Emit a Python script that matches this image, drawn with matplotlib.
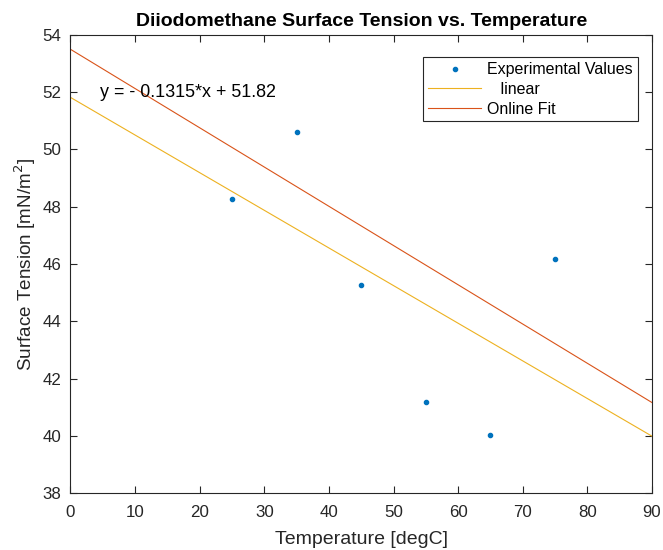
import matplotlib
matplotlib.use("Agg")
import matplotlib.pyplot as plt
import numpy as np

plt.rcParams['font.family'] = ['Liberation Sans', 'DejaVu Sans']

# Data
temperature = [25, 35, 45, 55, 65, 75]
surface_tension = [48.26, 50.61, 45.26, 41.18, 40.04, 46.18]
fit_slope = -0.1315
fit_intercept = 51.82
fit_x = [0, 90]
online_fit_x = [0, 90]
online_fit_y = [53.5, 41.16]
xticks = list(range(0, 91, 10))
yticks = list(range(38, 55, 2))

fig = plt.figure(figsize=(6.63, 5.5), dpi=100)
ax = fig.add_axes([0.1063, 0.1036, 0.9834 - 0.1063, 0.9364 - 0.1036])

blue = '#0072BD'
yellow = '#EDB120'
red = '#D95319'
gray = '#262626'

ax.plot(temperature, surface_tension, linestyle='none', marker='.', markersize=6,
        color=blue, label='Experimental Values')
fx = np.array(fit_x, dtype=float)
ax.plot(fx, fit_slope * fx + fit_intercept, color=yellow, lw=0.8, label='   linear')
ax.plot(online_fit_x, online_fit_y, color=red, lw=0.8, label='Online Fit')

ax.set_xlim(0, 90)
ax.set_ylim(38, 54)
ax.set_xticks(xticks)
ax.set_yticks(yticks)
ax.tick_params(direction='in', top=True, right=True, length=5, width=0.8,
               labelsize=12.2, colors=gray)
ax.tick_params(axis='x', pad=8.5)
ax.tick_params(axis='y', pad=6.5)
for s in ax.spines.values():
    s.set_color(gray)
    s.set_linewidth(0.8)

ax.text(4.5, 52, 'y = - 0.1315*x + 51.82', fontsize=12.9, ha='left', va='center', color='black')

ax.set_title('Diiodomethane Surface Tension vs. Temperature', fontsize=14,
             fontweight='bold', pad=6.5)
ax.set_xlabel('Temperature [degC]', fontsize=14, color=gray, labelpad=8)
ax.set_ylabel('Surface Tension [mN/m$^2$]', fontsize=13.6, color=gray, labelpad=3)

leg = ax.legend(loc='upper right', bbox_to_anchor=(0.9618, 0.8958),
                bbox_transform=fig.transFigure, borderaxespad=0,
                fontsize=11.5, handlelength=3.3, handletextpad=0.4,
                labelspacing=0.3, borderpad=0.3, fancybox=False,
                framealpha=1, edgecolor=gray)
leg.get_frame().set_linewidth(0.8)

fig.savefig('out.png', dpi=100)
